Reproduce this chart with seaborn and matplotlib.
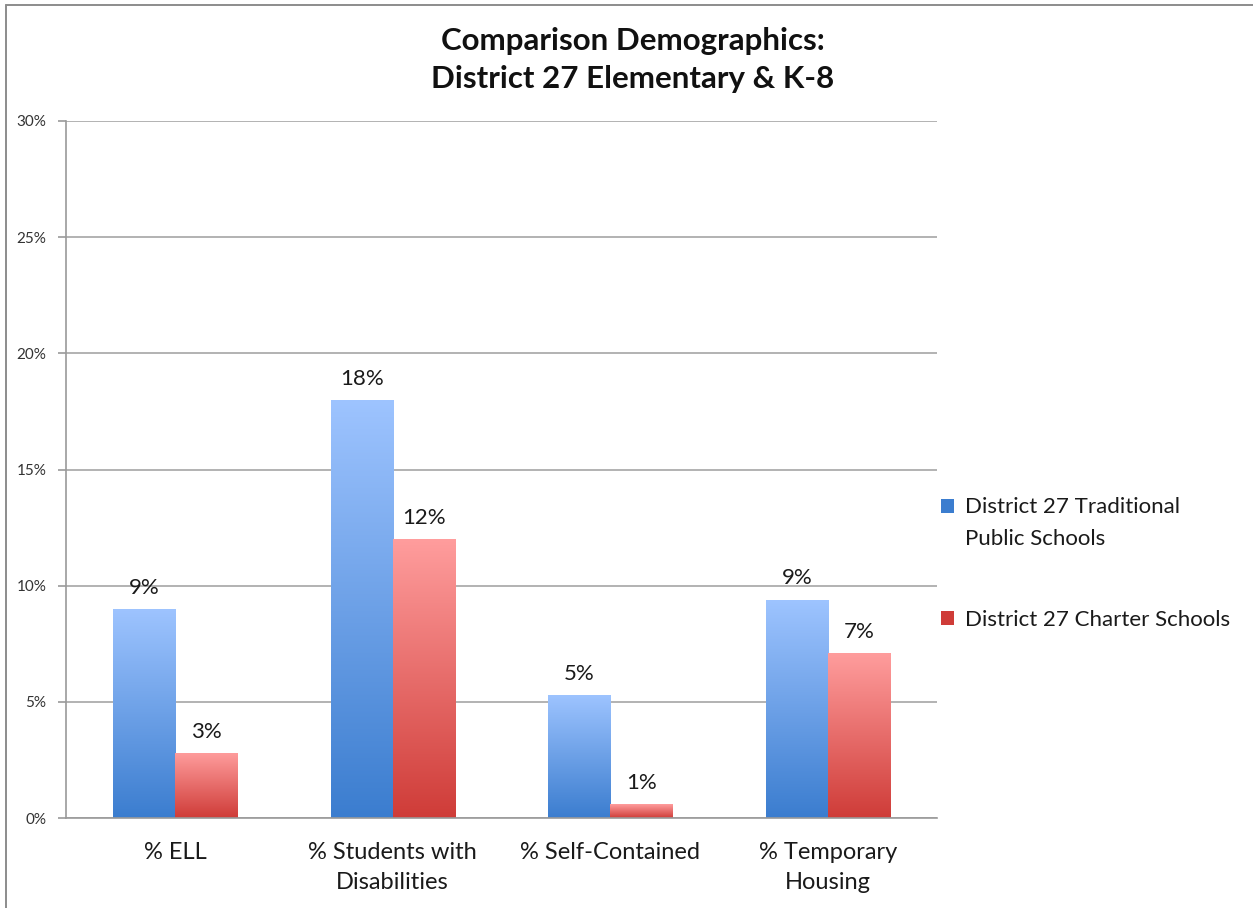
import matplotlib
matplotlib.use("Agg")
import matplotlib.pyplot as plt
import matplotlib.colors as mcolors
import numpy as np
import pandas as pd
import seaborn as sns
from matplotlib.lines import Line2D
from matplotlib.patches import Patch, Rectangle
from matplotlib.legend_handler import HandlerPatch

categories = ["% ELL", "% Students with\nDisabilities", "% Self-Contained", "% Temporary\nHousing"]
series_names = ["District 27 Traditional\nPublic Schools", "District 27 Charter Schools"]
traditional = [9.0, 18.0, 5.3, 9.4]
charter = [2.8, 12.0, 0.6, 7.1]
yticks = [0, 5, 10, 15, 20, 25, 30]

# gradient colours, top -> bottom
grad = {
    series_names[0]: ("#9ec4ff", "#3b7dcf"),
    series_names[1]: ("#ff9d9d", "#cf3c38"),
}

df = pd.DataFrame({
    "category": categories * 2,
    "series": [series_names[0]] * 4 + [series_names[1]] * 4,
    "value": traditional + charter,
})

sns.set_theme(style="white")
plt.rcParams["font.family"] = ["Lato", "DejaVu Sans"]

fig = plt.figure(figsize=(12.53, 9.08), dpi=100)
ax = fig.add_axes([66 / 1253, 1 - 818 / 908, (937 - 66) / 1253, (818 - 121) / 908])

sns.barplot(data=df, x="category", y="value", hue="series", order=categories,
            hue_order=series_names, width=0.57, palette=[grad[s][1] for s in series_names],
            ax=ax, legend=False, saturation=1)

for cont, name in zip(ax.containers, series_names):
    top_c, bot_c = (np.array(mcolors.to_rgb(c)) for c in grad[name])
    for bar in cont:
        x0, y0 = bar.get_x(), bar.get_y()
        w, h = bar.get_width(), bar.get_height()
        t = np.linspace(0, 1, 256)[:, None]
        img = (top_c[None, :] * (1 - t) + bot_c[None, :] * t)[:, None, :]
        im = ax.imshow(img, extent=(x0, x0 + w, y0, y0 + h), aspect="auto",
                       origin="upper", zorder=2, interpolation="bilinear")
        im.set_clip_path(bar)
        bar.set_edgecolor("none")
    labels = [f"{v:.0f}%" for v in cont.datavalues]
    ax.bar_label(cont, labels=labels, padding=8, fontsize=16, color="#1a1a1a", zorder=4)

ax.set_xlim(-0.5, len(categories) - 0.5)
ax.set_ylim(0, 30)
ax.set_yticks(yticks)
ax.set_yticklabels([f"{v}%" for v in yticks], fontsize=11, color="#333333")
ax.set_xticks(range(len(categories)))
ax.set_xticklabels(categories, fontsize=17, color="#1a1a1a", linespacing=1.55)
ax.set_xticks(np.arange(-0.5, len(categories)), minor=True)
ax.tick_params(axis="x", which="major", length=0, pad=17)
ax.tick_params(axis="x", which="minor", length=6, width=1.2, color="#9a9a9a", direction="out")
ax.tick_params(axis="y", length=6, width=1.2, color="#9a9a9a", direction="out", pad=8, left=True)
ax.set_xlabel("")
ax.set_ylabel("")

ax.yaxis.grid(True, color="#a6a6a6", linewidth=1.2)
ax.set_axisbelow(True)
for s in ["top", "right"]:
    ax.spines[s].set_visible(False)
for s in ["left", "bottom"]:
    ax.spines[s].set_color("#9a9a9a")
    ax.spines[s].set_linewidth(1.2)


def top_square(legend, orig_handle, xdescent, ydescent, width, height, fontsize):
    # put the square beside the first text line of a wrapped label
    return Rectangle((-xdescent, -ydescent + 12), width, height)


handles = [Patch(facecolor=grad[s][1], edgecolor="none") for s in series_names]
leg = fig.legend(handles, series_names, loc="upper left", bbox_to_anchor=(941 / 1253, 1 - 497 / 908),
                 frameon=False, fontsize=16, handlelength=0.6, handleheight=0.6,
                 handletextpad=0.5, labelspacing=2.75, borderaxespad=0, borderpad=0,
                 handler_map={handles[0]: HandlerPatch(patch_func=top_square)})
for txt in leg.get_texts():
    txt.set_linespacing(1.72)
    txt.set_color("#1a1a1a")

fig.suptitle("Comparison Demographics:\nDistrict 27 Elementary & K-8", x=633 / 1253, y=1 - 27 / 908,
             fontsize=22.5, fontweight="bold", color="#111111", linespacing=1.45, va="top")

# outer chart border (top and left)
fig.add_artist(Line2D([6 / 1253, 1], [1 - 5 / 908] * 2, color="#8c8c8c", linewidth=1.4))
fig.add_artist(Line2D([6 / 1253] * 2, [0, 1 - 5 / 908], color="#8c8c8c", linewidth=1.4))

fig.savefig("out.png", dpi=100)
